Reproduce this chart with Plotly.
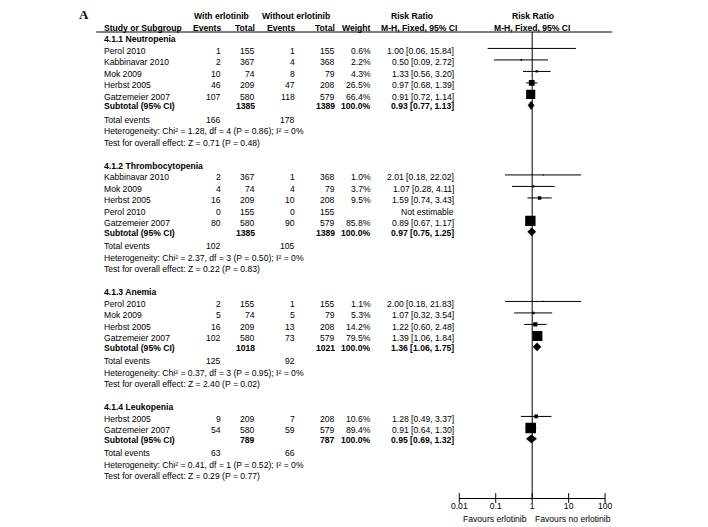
import plotly.graph_objects as go
import math

# ---------------- data ----------------
subgroups = ["4.1.1 Neutropenia", "4.1.2 Thrombocytopenia", "4.1.3 Anemia", "4.1.4 Leukopenia"]
study_group = [0, 0, 0, 0, 0, 1, 1, 1, 1, 1, 2, 2, 2, 2, 3, 3]
study = ["Perol 2010", "Kabbinavar 2010", "Mok 2009", "Herbst 2005", "Gatzemeier 2007",
         "Kabbinavar 2010", "Mok 2009", "Herbst 2005", "Perol 2010", "Gatzemeier 2007",
         "Perol 2010", "Mok 2009", "Herbst 2005", "Gatzemeier 2007",
         "Herbst 2005", "Gatzemeier 2007"]
events_e = [1, 2, 10, 46, 107, 2, 4, 16, 0, 80, 2, 5, 16, 102, 9, 54]
total_e = [155, 367, 74, 209, 580, 367, 74, 209, 155, 580, 155, 74, 209, 580, 209, 580]
events_c = [1, 4, 8, 47, 118, 1, 4, 10, 0, 90, 1, 5, 13, 73, 7, 59]
total_c = [155, 368, 79, 208, 579, 368, 79, 208, 155, 579, 155, 79, 208, 579, 208, 579]
weight = [0.6, 2.2, 4.3, 26.5, 66.4, 1.0, 3.7, 9.5, None, 85.8, 1.1, 5.3, 14.2, 79.5, 10.6, 89.4]
rr = [1.00, 0.50, 1.33, 0.97, 0.91, 2.01, 1.07, 1.59, None, 0.89, 2.00, 1.07, 1.22, 1.39, 1.28, 0.91]
rr_lo = [0.06, 0.09, 0.56, 0.68, 0.72, 0.18, 0.28, 0.74, None, 0.67, 0.18, 0.32, 0.60, 1.06, 0.49, 0.64]
rr_hi = [15.84, 2.72, 3.20, 1.39, 1.14, 22.02, 4.11, 3.43, None, 1.17, 21.83, 3.54, 2.48, 1.84, 3.37, 1.30]

sub_total_e = [1385, 1385, 1018, 789]
sub_total_c = [1389, 1389, 1021, 787]
sub_rr = [0.93, 0.97, 1.36, 0.95]
sub_lo = [0.77, 0.75, 1.06, 0.69]
sub_hi = [1.13, 1.25, 1.75, 1.32]
sum_events_e = [166, 102, 125, 63]
sum_events_c = [178, 105, 92, 66]
het_text = ["Heterogeneity: Chi² = 1.28, df = 4 (P = 0.86); I² = 0%",
            "Heterogeneity: Chi² = 2.37, df = 3 (P = 0.50); I² = 0%",
            "Heterogeneity: Chi² = 0.37, df = 3 (P = 0.95); I² = 0%",
            "Heterogeneity: Chi² = 0.41, df = 1 (P = 0.52); I² = 0%"]
test_text = ["Test for overall effect: Z = 0.71 (P = 0.48)",
             "Test for overall effect: Z = 0.22 (P = 0.83)",
             "Test for overall effect: Z = 2.40 (P = 0.02)",
             "Test for overall effect: Z = 0.29 (P = 0.77)"]
tick_vals = [0.01, 0.1, 1, 10, 100]
tick_text = ["0.01", "0.1", "1", "10", "100"]

# ---------------- layout constants ----------------
# the page body has an 8px margin, so the figure is drawn from (8, 8)
OX, OY = 8, 8
W, H = 708 - OX, 527 - OY
ROW0_PX, ROW_PX = 39.0, 11.5
AXIS_PX = 498.0
FS = 8.6
FONT = "Liberation Sans, Arial, Helvetica, sans-serif"

X_STUDY, X_EVE, X_TOTE, X_EVC, X_TOTC, X_W, X_CI = 97, 218, 253, 294, 335, 372, 457


def px(xp):
    return (xp - OX) / W


def py(yp):
    return 1 - (yp - OY) / H


row_top = (OY - ROW0_PX) / ROW_PX
row_bot = (AXIS_PX - ROW0_PX) / ROW_PX

annotations = []


def txt(xpx, row, s, anchor="left", bold=False, yref="y", size=FS, family=FONT):
    annotations.append(dict(
        x=px(xpx), xref="paper", y=row, yref=yref, text=("<b>%s</b>" % s) if bold else s,
        showarrow=False, xanchor=anchor, yanchor="middle",
        font=dict(size=size, family=family, color="black"), borderpad=0))


# headers
txt(71, -2.1, "A", "left", True, size=13, family="Liberation Serif, Times New Roman, serif")
txt(218, -2, "With erlotinib", "center", True)
txt(294, -2, "Without erlotinib", "center", True)
txt(413, -2, "Risk Ratio", "center", True)
txt(536, -2, "Risk Ratio", "center", True)
txt(X_STUDY, -1, "Study or Subgroup", "left", True)
txt(X_EVE, -1, "Events", "right", True)
txt(X_TOTE, -1, "Total", "right", True)
txt(X_EVC, -1, "Events", "right", True)
txt(X_TOTC, -1, "Total", "right", True)
txt(X_W, -1, "Weight", "right", True)
txt(420, -1, "M-H, Fixed, 95% CI", "center", True)
txt(535, -1, "M-H, Fixed, 95% CI", "center", True)

ci_x, ci_y, sq_x, sq_y, sq_s = [], [], [], [], []
diamonds = []
MARK_OFF = -0.18

row = 0
for g, name in enumerate(subgroups):
    txt(X_STUDY, row, name, "left", True)
    idx = [i for i, sg in enumerate(study_group) if sg == g]
    for k, i in enumerate(idx):
        r = row + 1 + k
        txt(X_STUDY, r, study[i])
        txt(X_EVE, r, str(events_e[i]), "right")
        txt(X_TOTE, r, str(total_e[i]), "right")
        txt(X_EVC, r, str(events_c[i]), "right")
        txt(X_TOTC, r, str(total_c[i]), "right")
        if weight[i] is None:
            txt(X_CI, r, "Not estimable", "right")
        else:
            txt(X_W, r, "%.1f%%" % weight[i], "right")
            txt(X_CI, r, "%.2f [%.2f, %.2f]" % (rr[i], rr_lo[i], rr_hi[i]), "right")
            ci_x += [rr_lo[i], rr_hi[i], None]
            ci_y += [r + MARK_OFF, r + MARK_OFF, None]
            sq_x.append(rr[i])
            sq_y.append(r + MARK_OFF)
            sq_s.append(1.12 * math.sqrt(weight[i]))
    n = len(idx)
    rs = row + n + 1 - 0.15
    txt(X_STUDY, rs, "Subtotal (95% CI)", "left", True)
    txt(X_TOTE, rs, str(sub_total_e[g]), "right", True)
    txt(X_TOTC, rs, str(sub_total_c[g]), "right", True)
    txt(X_W, rs, "100.0%", "right", True)
    txt(X_CI, rs, "%.2f [%.2f, %.2f]" % (sub_rr[g], sub_lo[g], sub_hi[g]), "right", True)
    diamonds.append((sub_lo[g], sub_rr[g], sub_hi[g], rs + MARK_OFF + 0.1))
    rt = row + n + 2
    txt(X_STUDY, rt, "Total events")
    txt(X_EVE, rt, str(sum_events_e[g]), "right")
    txt(X_EVC, rt, str(sum_events_c[g]), "right")
    txt(X_STUDY, rt + 1, het_text[g])
    txt(X_STUDY, rt + 2, test_text[g])
    row += n + 6

# favours labels
txt(498, py(519), "Favours erlotinib", "center", yref="paper")
txt(577, py(519), "Favours no erlotinib", "center", yref="paper")

fig = go.Figure()
fig.add_trace(go.Scatter(x=ci_x, y=ci_y, mode="lines", line=dict(color="black", width=1),
                         hoverinfo="skip", showlegend=False))
fig.add_trace(go.Scatter(x=sq_x, y=sq_y, mode="markers", opacity=1,
                         marker=dict(symbol="square", size=sq_s, color="black", opacity=1,
                                     line=dict(width=0)),
                         showlegend=False))
DH = 0.36
for lo, est, hi, r in diamonds:
    fig.add_trace(go.Scatter(x=[lo, est, hi, est, lo], y=[r, r - DH, r, r + DH, r],
                             mode="lines", fill="toself", fillcolor="black",
                             line=dict(color="black", width=0.5), showlegend=False))
# cross ticks on the axis
fig.add_trace(go.Scatter(x=tick_vals, y=[row_bot] * len(tick_vals), mode="markers",
                         marker=dict(symbol="line-ns", size=7, line=dict(color="black", width=1)),
                         cliponaxis=False, showlegend=False, hoverinfo="skip"))

shapes = [
    dict(type="line", xref="paper", yref="paper", x0=px(90), x1=px(617),
         y0=py(32), y1=py(32), line=dict(color="black", width=1)),
    dict(type="line", xref="x", yref="paper", x0=1, x1=1,
         y0=py(AXIS_PX), y1=py(32), line=dict(color="black", width=1)),
]

fig.update_layout(
    width=W, height=H, margin=dict(l=0, r=0, t=0, b=0),
    paper_bgcolor="white", plot_bgcolor="white",
    showlegend=False, annotations=annotations, shapes=shapes,
    xaxis=dict(type="log", range=[-2, 2], domain=[px(461), px(610)],
               showline=True, linecolor="black", linewidth=1, showgrid=False, zeroline=False,
               tickvals=tick_vals, ticktext=tick_text, ticks="", ticklen=0,
               tickfont=dict(size=FS, family=FONT, color="black")),
    yaxis=dict(range=[row_bot, row_top], domain=[py(AXIS_PX), 1], visible=False,
               showgrid=False, zeroline=False),
)

fig.write_html("out.html")
